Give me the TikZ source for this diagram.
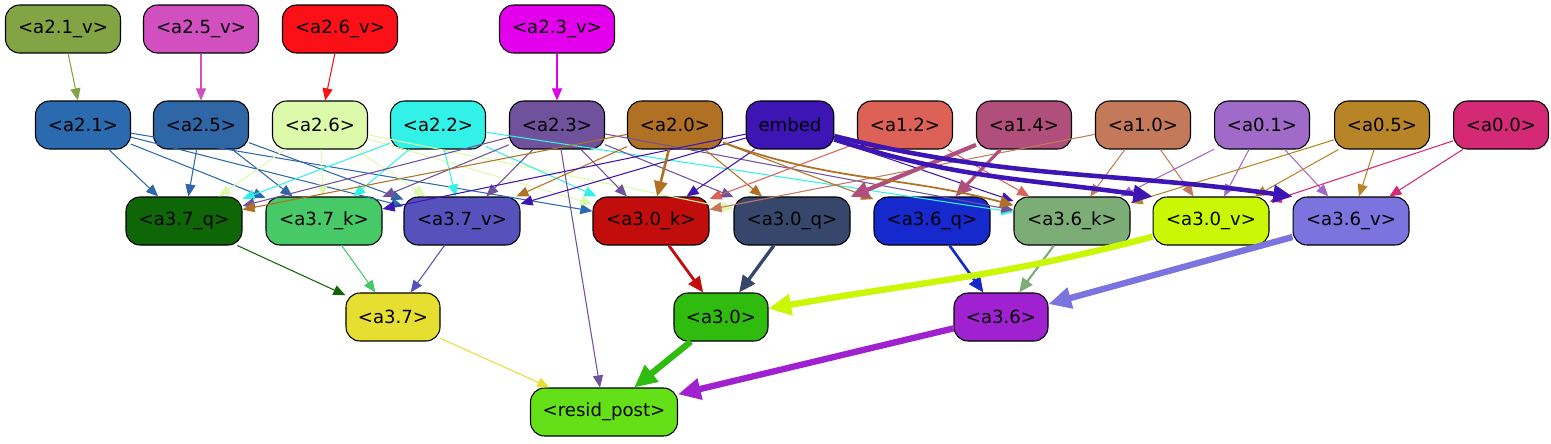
\documentclass[tikz,border=0pt]{standalone}
\usepackage{fontspec}
\setmainfont{DejaVu Sans}
\usetikzlibrary{arrows.meta}
\definecolor{a21v}{HTML}{82A444}
\definecolor{a25v}{HTML}{D24FC0}
\definecolor{a26v}{HTML}{FC1018}
\definecolor{a23v}{HTML}{E300EC}
\definecolor{a21}{HTML}{2B6AAF}
\definecolor{a25}{HTML}{2F67A6}
\definecolor{a26}{HTML}{DDFAAA}
\definecolor{a22}{HTML}{32F2E8}
\definecolor{a23}{HTML}{6F519C}
\definecolor{a20}{HTML}{B07124}
\definecolor{embed}{HTML}{3E15B5}
\definecolor{a12}{HTML}{DC6258}
\definecolor{a14}{HTML}{B04E7C}
\definecolor{a10}{HTML}{C47A5A}
\definecolor{a01}{HTML}{A06AC8}
\definecolor{a05}{HTML}{B88428}
\definecolor{a00}{HTML}{D42A76}
\definecolor{a37q}{HTML}{0F6606}
\definecolor{a37k}{HTML}{46C966}
\definecolor{a37v}{HTML}{5752BB}
\definecolor{a30k}{HTML}{C10D0B}
\definecolor{a30q}{HTML}{37476B}
\definecolor{a36q}{HTML}{1629CD}
\definecolor{a36k}{HTML}{7CAD76}
\definecolor{a30v}{HTML}{C9F705}
\definecolor{a36v}{HTML}{7C74DE}
\definecolor{a37}{HTML}{E6DE31}
\definecolor{a30}{HTML}{30BB0F}
\definecolor{a36}{HTML}{A021D0}
\definecolor{resid}{HTML}{63E018}
\tikzset{
	box/.style = {draw=black, line width=0.6pt, rounded corners=0.28cm, minimum height=0.96cm, inner xsep=0.1cm, font=\fontsize{10.3}{12}\selectfont},
	conn/.style = {-{Triangle[length=0.2cm 2, width=0.16cm 2]}, line width=0.6pt}
}
\begin{document}
\begin{tikzpicture}[x=0.02cm, y=-0.02cm]
		\useasboundingbox (0,0) rectangle (1551,443);
		% inputs
		\foreach \n/\x/\l in {a21v/63/{<a2.1\_v>}, a25v/201/{<a2.5\_v>}, a26v/340/{<a2.6\_v>}, a23v/557/{<a2.3\_v>}}
			\node[box, fill=\n, minimum width=2.3cm] (\n) at (\x,29) {\l};
		% depth 1
		\foreach \n/\x/\w/\l in {a21/83/1.9/{<a2.1>}, a25/201/1.9/{<a2.5>}, a26/320/1.9/{<a2.6>}, a22/438/1.9/{<a2.2>}, a23/557/1.9/{<a2.3>}, a20/675/1.9/{<a2.0>}, embed/790/1.75/{embed}, a12/905/1.9/{<a1.2>}, a14/1024/1.9/{<a1.4>}, a10/1143/1.9/{<a1.0>}, a01/1262/1.9/{<a0.1>}, a05/1382/1.9/{<a0.5>}, a00/1501/1.9/{<a0.0>}}
			\node[box, fill=\n, minimum width=\w cm] (\n) at (\x,125) {\l};
		% depth 2
		\foreach \n/\x/\l in {a37q/184/{<a3.7\_q>}, a37k/324/{<a3.7\_k>}, a37v/462/{<a3.7\_v>}, a30k/651/{<a3.0\_k>}, a30q/792/{<a3.0\_q>}, a36q/932/{<a3.6\_q>}, a36k/1072/{<a3.6\_k>}, a30v/1211/{<a3.0\_v>}, a36v/1351/{<a3.6\_v>}}
			\node[box, fill=\n, minimum width=2.32cm] (\n) at (\x,221) {\l};
		% depth 3
		\foreach \n/\x/\l in {a37/393/{<a3.7>}, a30/721/{<a3.0>}, a36/1001/{<a3.6>}}
			\node[box, fill=\n, minimum width=1.88cm] (\n) at (\x,317) {\l};
		\node[box, fill=resid, minimum width=2.94cm] (resid) at (604,412) {<resid\_post>};
		% thin connectors
		\foreach \s/\t in {a21v/a21, a25v/a25, a26v/a26, a23v/a23,
			a21/a37q, a21/a37k, a21/a37v, a21/a30k, a25/a37q, a25/a37k, a25/a37v,
			a26/a37q, a26/a37k, a26/a37v, a26/a30k, a26/a30q,
			a22/a37q, a22/a37k, a22/a37v, a22/a30k, a22/a36k,
			a23/a37q, a23/a37k, a23/a37v, a23/a30k, a23/a30q, a23/a36k, a23/resid,
			a20/a37q, a20/a37v, a20/a30q, a20/a36q,
			embed/a37k, embed/a37v, embed/a30k, embed/a36k,
			a12/a30k, a12/a36k, a10/a30k, a10/a36k, a10/a30v,
			a01/a36k, a01/a30v, a01/a36v, a05/a36k, a05/a30v, a05/a36v, a00/a30v, a00/a36v,
			a37q/a37, a37k/a37, a37v/a37, a37/resid}
			\draw[conn, \s] (\s) -- (\t);
		% thick connectors
		\foreach \s/\t/\w in {a20/a30k/1.5, a14/a30q/2.4, a14/a36q/1.8, a30k/a30/1.6, a30q/a30/1.9,
			a36q/a36/1.5, a36k/a36/1.2, a36v/a36/3.6, a30/resid/3.6, a36/resid/3.6}
			\draw[conn, \s, line width=\w pt] (\s) -- (\t);
		\draw[conn, a20, line width=1pt] (a20) to[out=-20, in=165] (a36k);
		\draw[conn, embed, line width=2.6pt] (embed) to[out=-18, in=172] (a30v.north west);
		\draw[conn, embed, line width=2.6pt] (embed) to[out=-14, in=172] (a36v.north west);
		\draw[conn, a30v, line width=3.6pt] (a30v) to[out=195, in=10] (a30);
	\end{tikzpicture}
\end{document}
